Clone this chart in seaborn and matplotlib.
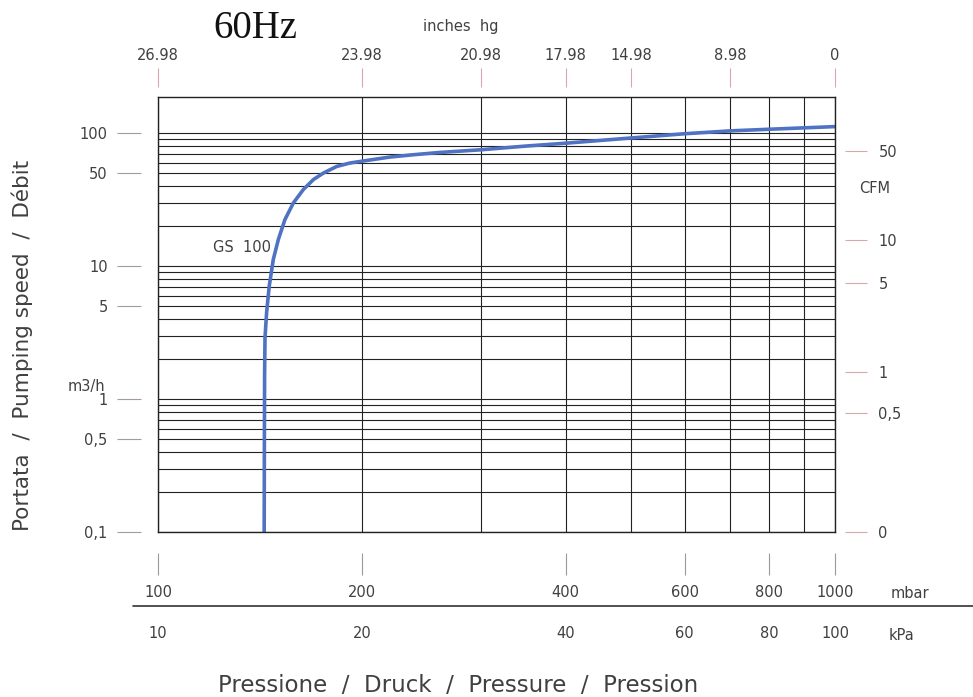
import numpy as np
import matplotlib
matplotlib.use("Agg")
import matplotlib.pyplot as plt
import matplotlib.ticker as mticker
from matplotlib.lines import Line2D
import seaborn as sns

# Curve GS 100 @ 60Hz
pressure_mbar = [143.5, 143.6, 143.7, 143.9, 144.7, 146.0, 148.0, 150.6, 154.0, 158.5,
                 163.9, 169.6, 175.5, 183.7, 192.1, 203.4, 220.1, 238.3, 261,
                 300, 350, 400, 500, 600, 700, 800, 1000]
speed_m3h = [0.1, 0.5, 1.5, 2.9, 4.5, 7.1, 11.2, 15.9, 22.4, 29.9,
             37.6, 44.7, 50.1, 56.2, 59.6, 62.3, 66.1, 68.8, 71.6,
             75, 80, 84, 92, 99, 104, 107, 112]

# Axis ticks / labels
mbar_ticks = [100, 200, 400, 600, 800, 1000]
kpa_labels = ["10", "20", "40", "60", "80", "100"]
inhg_pos = [100, 200, 300, 400, 500, 700, 1000]
inhg_labels = ["26.98", "23.98", "20.98", "17.98", "14.98", "8.98", "0"]
m3h_ticks = [100, 50, 10, 5, 1, 0.5, 0.1]
m3h_labels = ["100", "50", "10", "5", "1", "0,5", "0,1"]
cfm_pos = [73, 15.8, 7.5, 1.59, 0.78, 0.1]
cfm_labels = ["50", "10", "5", "1", "0,5", "0"]

sns.set_style("white")
plt.rcParams['font.family'] = ['DejaVu Sans']
txt = "#404040"
fs = 10.5

fig = plt.figure(figsize=(9.73, 6.97), dpi=100)
ax = fig.add_axes([158 / 973, 1 - 532 / 697, 677 / 973, 435.3 / 697])
ax.set_xscale("log")
ax.set_yscale("log")
ax.set_xlim(100, 1000)
ax.set_ylim(0.1, 188)
ax.grid(True, which="both", color="#222222", lw=0.8)
ax.tick_params(which="both", length=0, labelleft=False, labelbottom=False)
for s in ax.spines.values():
    s.set_color("#222222")
    s.set_linewidth(1.0)

sns.lineplot(x=pressure_mbar, y=speed_m3h, ax=ax, color="#4f72c2", lw=2.6,
             sort=False, estimator=None)

H = 435.3
W = 677.0

# bottom: mbar
bx = ax.secondary_xaxis(-21 / H)
bx.set_xticks(mbar_ticks, labels=[str(v) for v in mbar_ticks])
bx.xaxis.set_minor_locator(mticker.NullLocator())
bx.tick_params(direction="out", length=16, width=0.8, color="#999999",
               pad=7, labelsize=fs, labelcolor=txt)

# top: inches hg
tx = ax.secondary_xaxis(1 + 10 / H)
tx.set_xticks(inhg_pos, labels=inhg_labels)
tx.xaxis.set_minor_locator(mticker.NullLocator())
tx.tick_params(direction="out", length=14, width=0.8, color="#dba5ad",
               pad=3, labelsize=fs, labelcolor=txt)

# left: m3/h
ly = ax.secondary_yaxis(-17 / W)
ly.set_yticks(m3h_ticks, labels=m3h_labels)
ly.yaxis.set_minor_locator(mticker.NullLocator())
ly.tick_params(direction="out", length=17, width=0.8, color="#a89a9a",
               pad=7, labelsize=fs, labelcolor=txt)

# right: CFM
ry = ax.secondary_yaxis(1 + 10 / W)
ry.set_yticks(cfm_pos, labels=cfm_labels)
ry.yaxis.set_minor_locator(mticker.NullLocator())
ry.tick_params(direction="out", length=16, width=0.8, color="#dba5ad",
               pad=8, labelsize=fs, labelcolor=txt)

for sec in (bx, tx, ly, ry):
    for s in sec.spines.values():
        s.set_visible(False)

# kPa row under the mbar row
trans = matplotlib.transforms.blended_transform_factory(ax.transData, fig.transFigure)
for v, lab in zip(mbar_ticks, kpa_labels):
    ax.text(v, 1 - 633 / 697, lab, transform=trans, ha="center", va="center",
            fontsize=fs, color=txt, clip_on=False)

fig.add_artist(Line2D([133 / 973, 1.0], [1 - 606 / 697] * 2, color="#333333", lw=1.2))

fig.text(910 / 973, 1 - 593 / 697, "mbar", ha="center", va="center", fontsize=fs, color=txt)
fig.text(902 / 973, 1 - 635 / 697, "kPa", ha="center", va="center", fontsize=fs, color=txt)
fig.text(875 / 973, 1 - 188 / 697, "CFM", ha="center", va="center", fontsize=fs, color=txt)
fig.text(86 / 973, 1 - 386 / 697, "m3/h", ha="center", va="center", fontsize=fs, color=txt)
fig.text(461 / 973, 1 - 27 / 697, "inches  hg", ha="center", va="center", fontsize=fs, color=txt)
fig.text(255 / 973, 1 - 28 / 697, "60Hz", ha="center", va="center", fontsize=28,
         family="Liberation Serif", color="#111111")

ax.text(133, 13.8, "GS  100", ha="center", va="center", fontsize=fs, color=txt)

fig.text(458 / 973, 1 - 685 / 697, "Pressione  /  Druck  /  Pressure  /  Pression",
         ha="center", va="center", fontsize=16.5, color=txt)
fig.text(22 / 973, 1 - 345 / 697, "Portata  /  Pumping speed  /  Débit",
         ha="center", va="center", rotation=90, fontsize=15.5, color=txt)

fig.savefig("out.png", dpi=100)
